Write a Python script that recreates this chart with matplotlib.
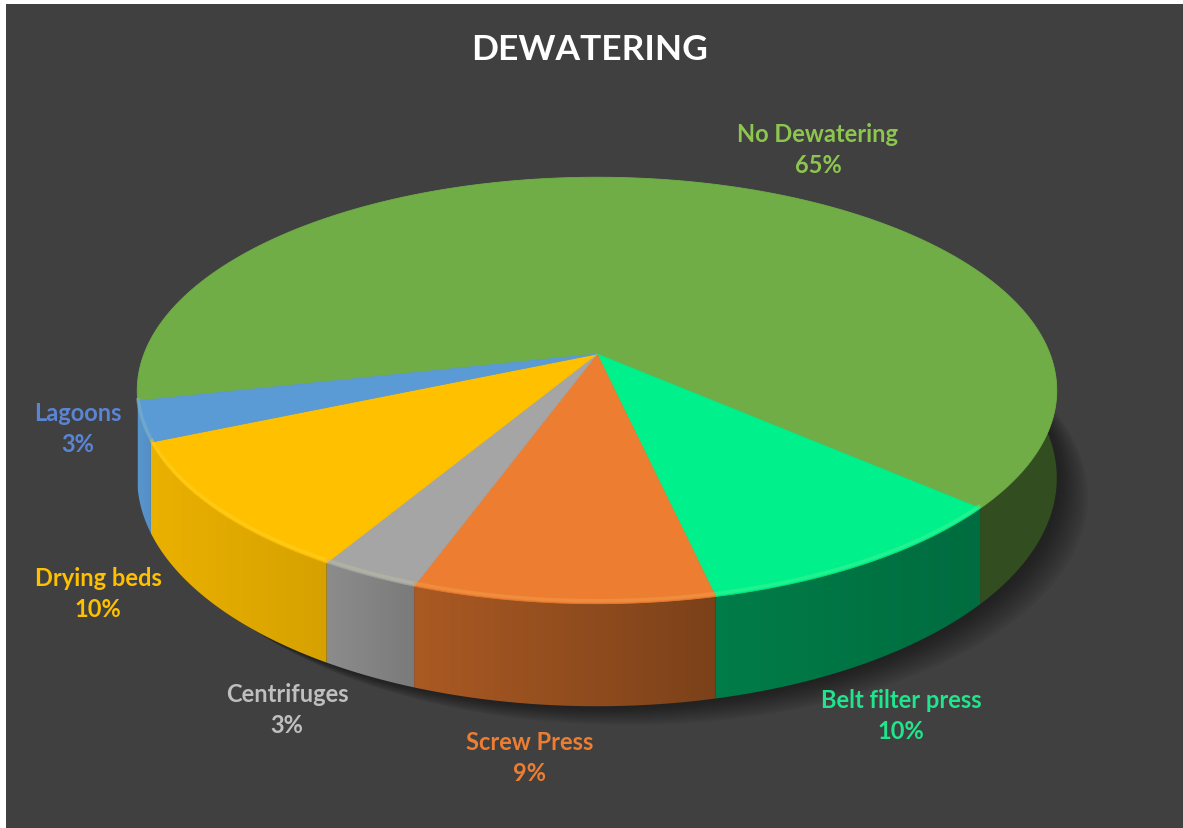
import numpy as np
import matplotlib
matplotlib.use("Agg")
import matplotlib.pyplot as plt
from matplotlib.patches import Polygon, Rectangle
from matplotlib.colors import to_rgb

# ---- data -------------------------------------------------------------
categories = ["No Dewatering", "Belt filter press", "Screw Press",
              "Centrifuges", "Drying beds", "Lagoons"]
shares = [65, 10, 9, 3, 10, 3]
top_colors = ["#70AD47", "#00F08C", "#ED7D31", "#A5A5A5", "#FFC000", "#5B9BD5"]
label_colors = ["#8DC64E", "#1FE58C", "#ED7D31", "#BFBFBF", "#FFC000", "#5A84D4"]
# side-wall brightness at the left and right end of each slice's wall
wall_shade = [(0.47, 0.45), (0.52, 0.45), (0.72, 0.52), (0.85, 0.74),
              (0.92, 0.84), (0.97, 0.92)]
title = "DEWATERING"

# ---- layout (pixel space) ---------------------------------------------
W, H = 1183, 829
cx, cy = 597, 355          # apex of the pie top
A, B = 453, 207            # horizontal / vertical radii of the disc
persp = -0.171             # perspective factor (front edge appears larger)
depth = 85                 # thickness of the disc
start_deg = 257.4          # clockwise from 12 o'clock

label_pos = [(818, 150), (901, 716), (530, 758), (287, 710), (98, 594), (78, 429)]

fig = plt.figure(figsize=(W / 100, H / 100), dpi=100, facecolor="white")
ax = fig.add_axes([0, 0, 1, 1])
ax.set_xlim(0, W)
ax.set_ylim(H, 0)
ax.axis("off")
ax.add_patch(Rectangle((6, 5), W, H, facecolor="#404040", edgecolor="none", zorder=0))


def rim(theta_deg, drop=0.0):
    th = np.radians(theta_deg)
    u, v = np.sin(th), -np.cos(th)
    d = 1 + persp * v
    return cx + A * u / d, cy + B * v / d + drop / d


def shade(color, f):
    r, g, b = to_rgb(color)
    return np.clip(np.array([r, g, b]) * f, 0, 1)


fr = np.array(shares, dtype=float) / sum(shares)
bounds = start_deg + 360 * np.concatenate([[0], np.cumsum(fr)])

# soft shadow under the disc
full = np.linspace(0, 360, 361)
bx, by = rim(full, depth)
for k in range(10):
    off = 4 + 3 * k
    ax.add_patch(Polygon(np.column_stack([bx + off, by + off * 0.6]), closed=True,
                         facecolor="black", edgecolor="none", alpha=0.05, zorder=1))

# side walls: horizontal gradient clipped to each wall outline
for i, col in enumerate(top_colors):
    a0, a1 = bounds[i], bounds[i + 1]
    ts = np.linspace(a0, a1, max(int((a1 - a0) / 0.5), 2) + 1)
    tx, ty = rim(ts)
    bx_, by_ = rim(ts, depth)
    outline = np.column_stack([np.concatenate([tx, bx_[::-1]]),
                               np.concatenate([ty, by_[::-1]])])
    clip = Polygon(outline, closed=True, facecolor="none", edgecolor="none", zorder=2)
    ax.add_patch(clip)
    x_lo, x_hi = outline[:, 0].min(), outline[:, 0].max()
    y_lo, y_hi = outline[:, 1].min(), outline[:, 1].max()
    ncol = max(int(x_hi - x_lo) + 2, 2)
    xs = np.linspace(x_lo, x_hi, ncol)
    xa, xb = sorted([tx[0], tx[-1]])
    if i == 0:
        xa, xb = x_lo, x_hi
    s = np.clip((xs - xa) / max(xb - xa, 1), 0, 1)
    f = wall_shade[i][0] + (wall_shade[i][1] - wall_shade[i][0]) * s
    row = np.array([shade(col, fi) for fi in f])
    img = np.repeat(row[None, :, :], 2, axis=0)
    im = ax.imshow(img, extent=(x_lo - 1, x_hi + 1, y_hi + 1, y_lo - 1),
                   aspect="auto", interpolation="bilinear", zorder=2)
    im.set_clip_path(clip)

# top faces with a soft bevel highlight along the front rim
for i, col in enumerate(top_colors):
    a0, a1 = bounds[i], bounds[i + 1]
    ts = np.linspace(a0, a1, max(int((a1 - a0) / 0.5), 2) + 1)
    xs, ys = rim(ts)
    pts = [(cx, cy)] + list(zip(xs, ys))
    ax.add_patch(Polygon(pts, closed=True, facecolor=col, edgecolor=col,
                         linewidth=0.6, zorder=3))
    front = np.cos(np.radians(ts)) < -0.05
    if i > 0 and front.any():
        hl = np.clip(np.array(to_rgb(col)) * 0.75 + 0.25 * np.array([1, 1, 0.6]), 0, 1)
        ax.plot(np.where(front, xs, np.nan), np.where(front, ys - 3, np.nan),
                color=hl, lw=2.5, alpha=0.5, solid_capstyle="butt", zorder=4)

# labels
font = ["Lato", "DejaVu Sans"]
ax.text(590, 50, title, ha="center", va="center", color="white",
        fontsize=25.5, fontweight="bold", family=font, zorder=5)
for name, s, (lx, ly), c in zip(categories, shares, label_pos, label_colors):
    ax.text(lx, ly, f"{name}\n{s}%", ha="center", va="center", color=c,
            fontsize=17, fontweight="bold", family=font, linespacing=1.45, zorder=5)

fig.savefig("out.png", dpi=100, facecolor=fig.get_facecolor())
